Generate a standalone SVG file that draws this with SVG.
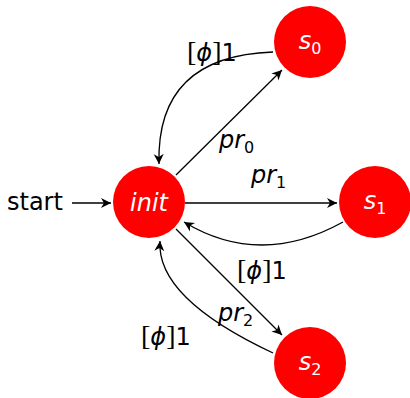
<svg xmlns="http://www.w3.org/2000/svg" width="410" height="398" viewBox="0 0 410 398">
<style>
.node{fill:#ff0000;}
.nl{fill:#ffffff;font-family:"DejaVu Sans",sans-serif;font-size:24px;font-style:italic;text-anchor:middle;}
.lbl{fill:#000000;font-family:"DejaVu Sans",sans-serif;font-size:24px;}
.br{font-family:"Liberation Serif",serif;font-size:28px;}
.e{fill:none;stroke:#000000;stroke-width:1.3;marker-end:url(#ah);}
</style>
<defs>
<marker id="ah" markerUnits="userSpaceOnUse" markerWidth="12" markerHeight="12" refX="0" refY="0" orient="auto" overflow="visible">
<path d="M0,0 L-10,-5 L-7,0 L-10,5 Z" fill="#000000"/>
</marker>
</defs>
<g id="edges">
<path class="e" d="M72,203 L111,203"/>
<path class="e" d="M176,175 L282,70"/>
<path class="e" d="M273,52 Q156,56 159,164"/>
<path class="e" d="M185,203 L337,203"/>
<path class="e" d="M343,222 Q260,268 184,222"/>
<path class="e" d="M176,229 L282,335"/>
<path class="e" d="M273,353 Q156,298 160,241"/>
</g>
<g id="labels">
<text class="lbl" x="7" y="210">start</text>
<text class="lbl" x="187" y="61"><tspan class="br">[</tspan><tspan font-style="italic">ϕ</tspan><tspan class="br">]</tspan>1</text>
<text class="lbl" x="219" y="148" font-style="italic">pr<tspan font-size="16" dy="5" font-style="normal">0</tspan></text>
<text class="lbl" x="251" y="183" font-style="italic">pr<tspan font-size="16" dy="5" font-style="normal">1</tspan></text>
<text class="lbl" x="237" y="279"><tspan class="br">[</tspan><tspan font-style="italic">ϕ</tspan><tspan class="br">]</tspan>1</text>
<text class="lbl" x="218" y="321" font-style="italic">pr<tspan font-size="16" dy="5" font-style="normal">2</tspan></text>
<text class="lbl" x="141" y="345"><tspan class="br">[</tspan><tspan font-style="italic">ϕ</tspan><tspan class="br">]</tspan>1</text>
</g>
<g id="init">
<circle class="node" cx="149" cy="202" r="36"/>
<text class="nl" x="149" y="211">init</text>
</g>
<g id="s0">
<circle class="node" cx="310" cy="42" r="36"/>
<text class="nl" x="310" y="49">s<tspan font-size="16" dy="5" font-style="normal">0</tspan></text>
</g>
<g id="s1">
<circle class="node" cx="375" cy="202" r="36"/>
<text class="nl" x="375" y="209">s<tspan font-size="16" dy="5" font-style="normal">1</tspan></text>
</g>
<g id="s2">
<circle class="node" cx="310" cy="363" r="36"/>
<text class="nl" x="310" y="370">s<tspan font-size="16" dy="5" font-style="normal">2</tspan></text>
</g>
</svg>
